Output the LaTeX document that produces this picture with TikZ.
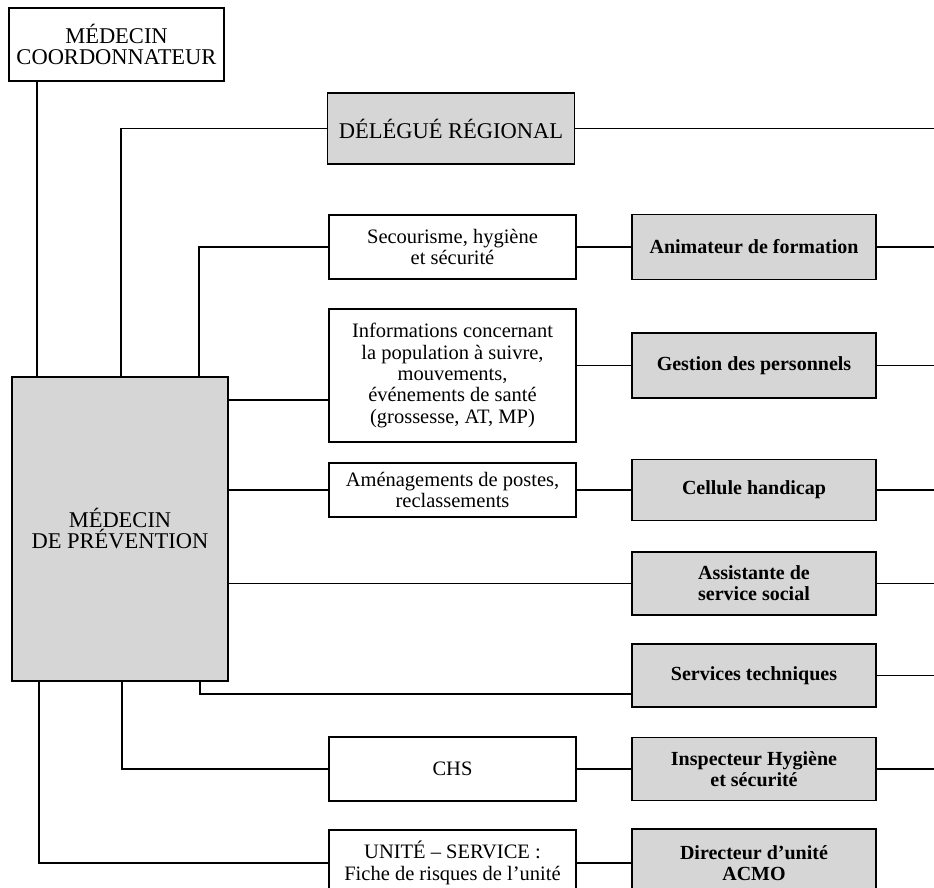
\documentclass[tikz,border=0pt]{standalone}
\usepackage{fontspec}
\setmainfont{Liberation Serif}
\begin{document}
\begin{tikzpicture}[x=1pt,y=-1pt,
  box/.style={draw, line width=1.3pt, inner sep=0pt, align=center,
    font=\fontsize{20.5}{21.3}\selectfont},
  capsbox/.style={box, font=\fontsize{22.5}{21}\selectfont},
  shaded/.style={box, fill=black!16, font=\bfseries\fontsize{20}{21}\selectfont},
  mid/.style={minimum width=247pt},
  rcol/.style={shaded, minimum width=244pt},
  link/.style={line width=1.2pt}]
\useasboundingbox (0,0) rectangle (934,888);

% main boxes
\node[capsbox, minimum width=215pt, minimum height=73pt] (coord) at (116.5,44.5) {MÉDECIN\\COORDONNATEUR};
\node[capsbox, fill=black!16, minimum width=216pt, minimum height=304pt] (prev) at (120,529) {MÉDECIN\\DE PRÉVENTION};

% middle column
\node[capsbox, fill=black!16, mid, minimum height=71pt] (dr) at (451,128.5) {DÉLÉGUÉ RÉGIONAL};
\node[box, mid, minimum height=64pt] (sec) at (452.5,247) {Secourisme, hygiène\\et sécurité};
\node[box, mid, minimum height=133pt] (info) at (452.5,375.5) {Informations concernant\\la population à suivre,\\mouvements,\\événements de santé\\(grossesse, AT, MP)};
\node[box, mid, minimum height=54pt] (amen) at (452.5,490) {Aménagements de postes,\\reclassements};
\node[box, mid, minimum height=64pt] (chs) at (452.5,769) {CHS};
\node[box, mid, minimum height=66pt] (unit) at (452.5,863) {UNITÉ – SERVICE :\\Fiche de risques de l’unité};

% right column
\node[rcol, minimum height=65pt] (anim) at (754,247) {Animateur de formation};
\node[rcol, minimum height=65pt] (gest) at (754,365.5) {Gestion des personnels};
\node[rcol, minimum height=61pt] (cell) at (754,490) {Cellule handicap};
\node[rcol, minimum height=63pt] (assist) at (754,583.5) {Assistante de\\service social};
\node[rcol, minimum height=63pt] (serv) at (754,675.5) {Services techniques};
\node[rcol, minimum height=63pt] (insp) at (754,769) {Inspecteur Hygiène\\et sécurité};
\node[rcol, minimum height=68pt] (dir) at (754,863) {Directeur d’unité\\ACMO};

% helper coordinates
\coordinate (R) at (934,0);
\coordinate (ta) at (37,0);
\coordinate (tb) at (121,0);
\coordinate (tc) at (199,0);
\coordinate (ba) at (39,0);
\coordinate (bb) at (122,0);
\coordinate (bc) at (200,0);
\coordinate (yi) at (0,400);
\coordinate (ys) at (0,694);

% connectors
\draw[link] (coord.south -| ta) -- (prev.north -| ta);
\draw[link] (prev.north -| tb) |- (dr.west);
\draw[link] (prev.north -| tc) |- (sec.west);
\draw[link] (dr.east) -- (dr.east -| R);
\draw[link] (sec.east) -- (anim.west);
\draw[link] (anim.east) -- (anim.east -| R);
\draw[link] (prev.east |- yi) -- (info.west |- yi);
\draw[link] (info.east |- gest.west) -- (gest.west);
\draw[link] (gest.east) -- (gest.east -| R);
\draw[link] (prev.east |- amen.west) -- (amen.west);
\draw[link] (amen.east) -- (cell.west);
\draw[link] (cell.east) -- (cell.east -| R);
\draw[link] (prev.east |- assist.west) -- (assist.west);
\draw[link] (assist.east) -- (assist.east -| R);
\draw[link] (prev.south -| bc) |- (serv.west |- ys);
\draw[link] (serv.east) -- (serv.east -| R);
\draw[link] (prev.south -| bb) |- (chs.west);
\draw[link] (chs.east) -- (insp.west);
\draw[link] (insp.east) -- (insp.east -| R);
\draw[link] (prev.south -| ba) |- (unit.west);
\draw[link] (unit.east) -- (dir.west);
\end{tikzpicture}
\end{document}
